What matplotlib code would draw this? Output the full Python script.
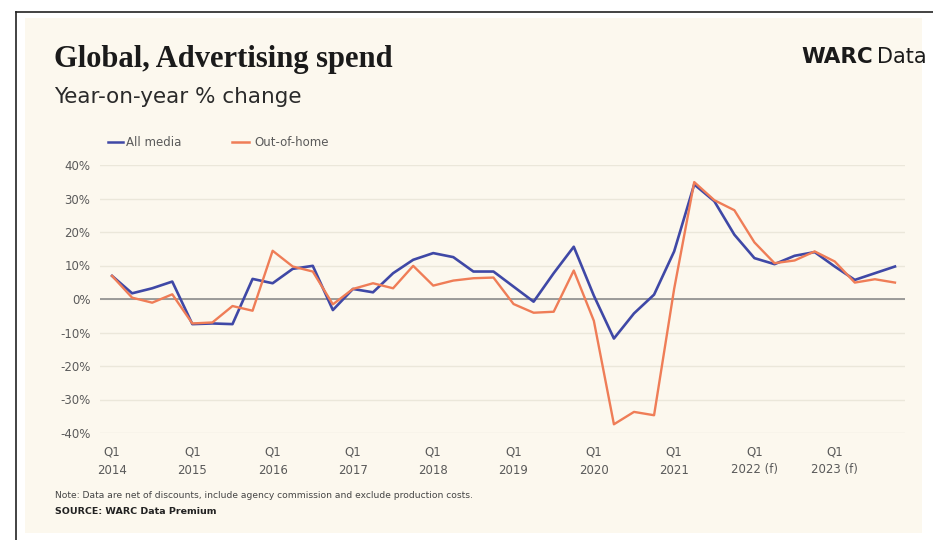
import numpy as np
import matplotlib.pyplot as plt
from matplotlib.patches import Rectangle
from matplotlib.ticker import FuncFormatter

years = ["2014", "2015", "2016", "2017", "2018", "2019", "2020", "2021", "2022 (f)", "2023 (f)"]

# quarterly year-on-year change, Q1 2014 .. Q4 2023
all_media = [6.9, 1.7, 3.2, 5.2, -7.5, -7.3, -7.5, 6.0, 4.7, 9.0,
             9.9, -3.3, 3.0, 2.0, 7.7, 11.7, 13.7, 12.5, 8.2, 8.2,
             3.7, -0.8, 7.7, 15.6, 1.0, -11.8, -4.3, 1.3, 14.2, 34.2,
             29.2, 19.2, 12.2, 10.4, 12.9, 14.0, 9.7, 5.7, 7.7, 9.7]
out_of_home = [6.9, 0.4, -1.1, 1.4, -7.3, -7.0, -2.1, -3.5, 14.4, 9.7,
               8.2, -1.6, 3.0, 4.7, 3.2, 9.9, 4.0, 5.5, 6.2, 6.4,
               -1.5, -4.1, -3.8, 8.5, -6.5, -37.4, -33.7, -34.7, 3.0, 34.9,
               29.5, 26.5, 16.9, 10.7, 11.5, 14.2, 11.2, 4.9, 5.9, 4.9]

BG = "#fcf8ee"
BLUE = "#3f48a6"
ORANGE = "#ef7d57"
GREY = "#5a5a5a"

fig = plt.figure(figsize=(9.33, 5.40), dpi=100)
fig.patch.set_facecolor("white")

W, H = 933, 540
# cream card and the thin dark frame round it
fig.patches.append(Rectangle((25 / W, 1 - 533 / H), 897 / W, 515 / H,
                             transform=fig.transFigure, facecolor=BG,
                             edgecolor="none", zorder=-5))
fig.lines.append(plt.Line2D([16 / W, 16 / W], [0, 1 - 12 / H],
                            transform=fig.transFigure, color="#222222", lw=1.2))
fig.lines.append(plt.Line2D([16 / W, 1], [1 - 12 / H, 1 - 12 / H],
                            transform=fig.transFigure, color="#222222", lw=1.2))

ax = fig.add_axes([100 / W, 1 - 433 / H, 805 / W, 268 / H])
ax.set_facecolor(BG)
ax.set_zorder(2)

x = np.arange(len(all_media))
ax.plot(x, all_media, color=BLUE, lw=1.9, clip_on=False, zorder=3)
ax.plot(x, out_of_home, color=ORANGE, lw=1.7, clip_on=False, zorder=4)

ax.set_xlim(-0.6, 39.5)
ax.set_ylim(-40, 40)
ax.set_yticks(np.arange(-40, 41, 10))
ax.yaxis.set_major_formatter(FuncFormatter(lambda v, p: f"{v:.0f}%"))
ax.set_xticks(np.arange(0, 40, 4))
ax.set_xticklabels([f"Q1\n{y}" for y in years])
ax.tick_params(axis="both", length=0, labelsize=8.5, labelcolor=GREY)
ax.tick_params(axis="y", pad=7)
ax.tick_params(axis="x", pad=9)
for lab in ax.get_xticklabels():
    lab.set_linespacing(1.5)

ax.grid(axis="y", color="#ebe7da", lw=1)
ax.axhline(0, color="#8c8c8c", lw=1.2, zorder=2)
for s in ax.spines.values():
    s.set_visible(False)

# legend drawn by hand at the top left
fig.lines.append(plt.Line2D([108 / W, 123 / W], [1 - 142 / H] * 2,
                            transform=fig.transFigure, color=BLUE, lw=1.8))
fig.text(126 / W, 1 - 142 / H, "All media", fontsize=8.5, color=GREY,
         va="center", ha="left")
fig.lines.append(plt.Line2D([232 / W, 249 / W], [1 - 142 / H] * 2,
                            transform=fig.transFigure, color=ORANGE, lw=1.8))
fig.text(254 / W, 1 - 142 / H, "Out-of-home", fontsize=8.5, color=GREY,
         va="center", ha="left")

fig.text(54 / W, 1 - 67 / H, "Global, Advertising spend", family="Liberation Serif",
         fontweight="bold", fontsize=22, color="#1a1a1a", va="baseline")
fig.text(54 / W, 1 - 103 / H, "Year-on-year % change", fontsize=15.5,
         color="#2a2a2a", va="baseline")
fig.text(873 / W, 1 - 63 / H, "WARC", fontsize=15.5, fontweight="bold",
         color="#1a1a1a", va="baseline", ha="right")
fig.text(877 / W, 1 - 63 / H, "Data", fontsize=15, color="#1a1a1a",
         va="baseline", ha="left")

fig.text(55 / W, 1 - 498 / H,
         "Note: Data are net of discounts, include agency commission and exclude production costs.",
         fontsize=6.6, color="#444444", va="baseline")
fig.text(55 / W, 1 - 514 / H, "SOURCE: WARC Data Premium", fontsize=6.8,
         fontweight="bold", color="#222222", va="baseline")

fig.savefig("out.png", dpi=100, facecolor=fig.get_facecolor())
